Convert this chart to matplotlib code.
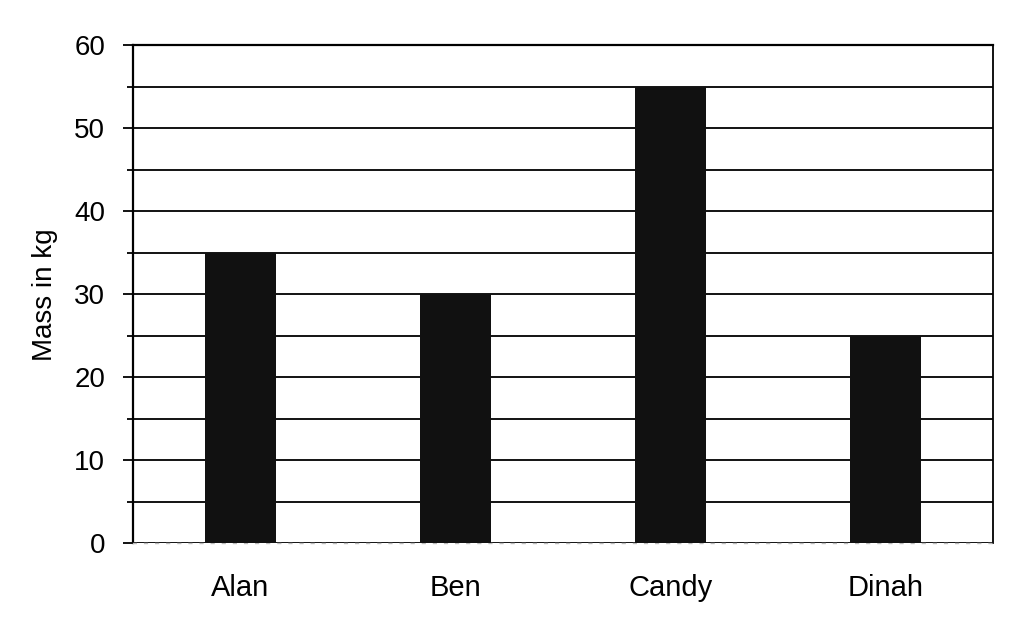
import numpy as np
import matplotlib
matplotlib.use("Agg")
import matplotlib.pyplot as plt

# Data
names = ["Alan", "Ben", "Candy", "Dinah"]
mass = [35, 30, 55, 25]
y_major = [0, 10, 20, 30, 40, 50, 60]
y_minor = [5, 15, 25, 35, 45, 55]

plt.rcParams['font.family'] = ['Liberation Sans', 'DejaVu Sans']

fig = plt.figure(figsize=(10.26, 6.28), dpi=100)
ax = fig.add_axes([0.1296, 0.135, 0.838, 0.793])

x = np.arange(len(names))

# Horizontal grid every 5 kg
ax.set_yticks(y_major)
ax.set_yticks(y_minor, minor=True)
ax.yaxis.grid(True, which='both', color='black', linewidth=1.3)
ax.set_axisbelow(True)

ax.bar(x, mass, width=0.33, color='#111111', zorder=3)

ax.set_xlim(-0.5, len(names) - 0.5)
ax.set_ylim(0, 60)
ax.set_xticks(x)
ax.set_xticklabels(names)

ax.spines['left'].set_linewidth(1.6)
ax.spines['right'].set_linewidth(1.3)
ax.spines['top'].set_linewidth(1.6)
ax.spines['bottom'].set_color('#bbbbbb')
ax.spines['bottom'].set_linestyle((0, (2, 6)))
ax.spines['bottom'].set_linewidth(1.0)

ax.tick_params(axis='y', which='major', length=7, width=1.3, labelsize=20, pad=13)
ax.tick_params(axis='y', which='minor', length=4, width=1.3)
ax.tick_params(axis='x', length=0, labelsize=21, pad=22)

ax.set_ylabel("Mass in kg", fontsize=20, labelpad=12)

fig.savefig("out.png", dpi=100, facecolor='white')
